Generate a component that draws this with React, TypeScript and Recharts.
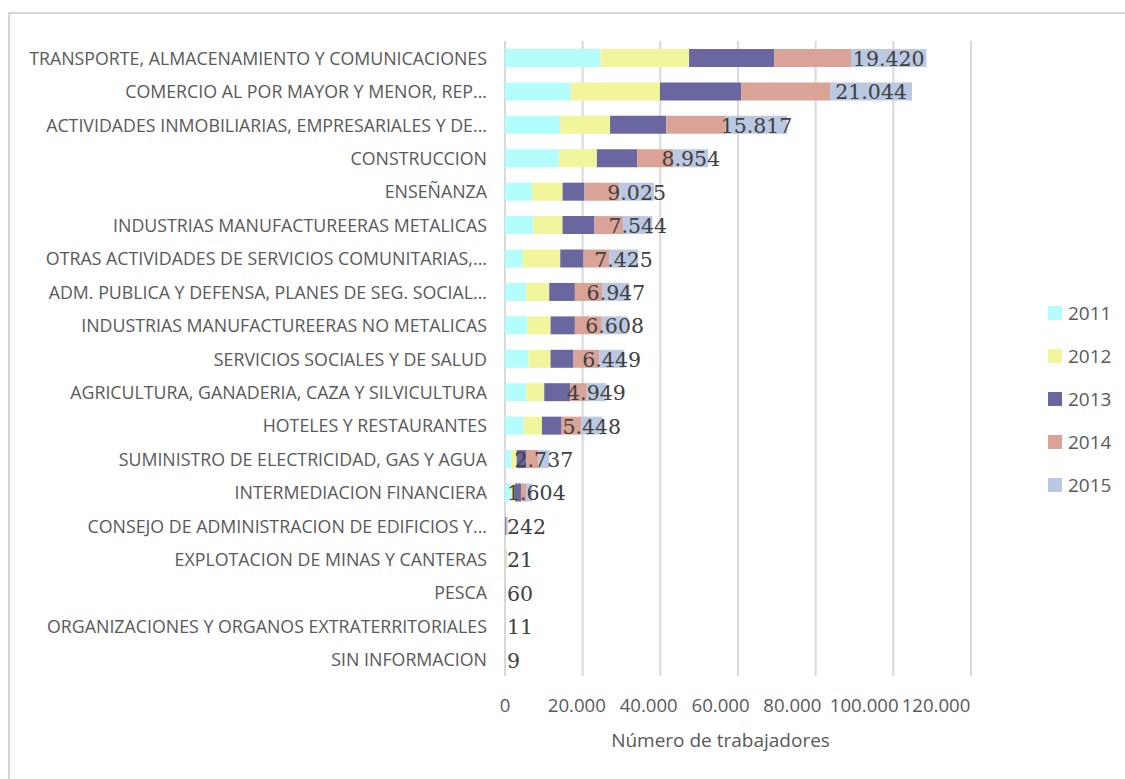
import { BarChart, Bar, XAxis, YAxis, CartesianGrid, Legend, LabelList, Label } from 'recharts'

const CATEGORIES = [
  'TRANSPORTE, ALMACENAMIENTO Y COMUNICACIONES',
  'COMERCIO AL POR MAYOR Y MENOR, REP...',
  'ACTIVIDADES INMOBILIARIAS, EMPRESARIALES Y DE...',
  'CONSTRUCCION',
  'ENSEÑANZA',
  'INDUSTRIAS MANUFACTUREERAS METALICAS',
  'OTRAS ACTIVIDADES DE SERVICIOS COMUNITARIAS,...',
  'ADM. PUBLICA Y DEFENSA, PLANES DE SEG. SOCIAL...',
  'INDUSTRIAS MANUFACTUREERAS NO METALICAS',
  'SERVICIOS SOCIALES Y DE SALUD',
  'AGRICULTURA, GANADERIA, CAZA Y SILVICULTURA',
  'HOTELES Y RESTAURANTES',
  'SUMINISTRO DE ELECTRICIDAD, GAS Y AGUA',
  'INTERMEDIACION FINANCIERA',
  'CONSEJO DE ADMINISTRACION DE EDIFICIOS Y...',
  'EXPLOTACION DE MINAS Y CANTERAS',
  'PESCA',
  'ORGANIZACIONES Y ORGANOS EXTRATERRITORIALES',
  'SIN INFORMACION',
]

const Y2011 = [24600, 16950, 14200, 13900, 6950, 7370, 4550, 5480, 5750, 6080, 5480, 4800, 1710, 1540, 0, 30, 20, 5, 3]
const Y2012 = [22800, 22950, 12850, 9770, 7880, 7450, 9680, 5910, 5990, 5650, 4630, 4710, 1290, 1030, 0, 200, 15, 8, 4]
const Y2013 = [21900, 20990, 14480, 10370, 5650, 8220, 5990, 6600, 6250, 5910, 6680, 5050, 2400, 1540, 220, 40, 20, 10, 5]
const Y2014 = [19800, 22870, 15330, 9340, 8910, 7370, 6600, 7110, 6940, 6600, 4280, 5050, 3250, 1290, 250, 100, 30, 12, 6]
const Y2015 = [19420, 21044, 15817, 8954, 9025, 7544, 7425, 6947, 6608, 6449, 4949, 5448, 2737, 1604, 242, 21, 60, 11, 9]

const X_TICKS = [0, 20000, 40000, 60000, 80000, 100000, 120000]

const SERIES = [
  { key: '2011', color: '#b3fdfd' },
  { key: '2012', color: '#f1f59b' },
  { key: '2013', color: '#6a67a0' },
  { key: '2014', color: '#d9a497' },
  { key: '2015', color: '#bac8e2' },
]

const data = CATEGORIES.map((name, i) => ({
  name,
  '2011': Y2011[i],
  '2012': Y2012[i],
  '2013': Y2013[i],
  '2014': Y2014[i],
  '2015': Y2015[i],
}))

const PLOT_LEFT = 505
const TICK_SQUEEZE = 0.925
const SANS = '"Open Sans", sans-serif'
const GREY = '#595959'

const fmt = (v: number) => Math.round(v).toString().replace(/\B(?=(\d{3})+(?!\d))/g, '.')

function CategoryTick(props: any) {
  const { x, y, payload } = props
  return (
    <text x={x} y={y} textAnchor="end" dominantBaseline="central" fontFamily={SANS} fontSize={17.8} fill={GREY}>
      {payload.value}
    </text>
  )
}

function ValueTick(props: any) {
  const { x, y, payload } = props
  // the source picture has its tick labels slightly squeezed toward the origin
  const tx = PLOT_LEFT + (x - PLOT_LEFT) * TICK_SQUEEZE
  return (
    <text x={tx} y={y + 28} textAnchor="middle" dominantBaseline="central" fontFamily={SANS} fontSize={18.6} fill={GREY}>
      {fmt(payload.value)}
    </text>
  )
}

function AxisTitle(props: any) {
  const vb = props.viewBox || {}
  return (
    <text x={vb.x + (vb.width * TICK_SQUEEZE) / 2} y={vb.y + 64} textAnchor="middle" dominantBaseline="central" fontFamily={SANS} fontSize={19} fill={GREY}>
      Número de trabajadores
    </text>
  )
}

function ValueLabel(props: any) {
  const { x, y, width, height, value } = props
  const text = fmt(Number(value))
  const fs = 20.5
  const dots = (text.match(/\./g) || []).length
  const est = (text.length - dots) * 0.636 * fs + dots * 0.318 * fs
  const cx = Math.max(Number(x) + Number(width) / 2, PLOT_LEFT + 2 + est / 2)
  return (
    <text x={cx} y={Number(y) + Number(height) / 2 + 1} textAnchor="middle" dominantBaseline="central" fontFamily='"DejaVu Serif", serif' fontSize={fs} fill="#404040">
      {text}
    </text>
  )
}

function LegendBox(props: any) {
  const items = props.payload || []
  return (
    <div>
      {items.map((it: any) => (
        <div key={it.value} style={{ display: 'flex', alignItems: 'center', height: 43 }}>
          <span style={{ width: 14, height: 14, background: it.color, marginRight: 6, display: 'inline-block' }} />
          <span style={{ fontFamily: SANS, fontSize: 19, color: GREY }}>{it.value}</span>
        </div>
      ))}
    </div>
  )
}

export default function App() {
  return (
    <div style={{ position: 'fixed', left: 0, top: 0, width: 1125, height: 779, background: '#fff' }}>
      <div
        style={{
          position: 'absolute', left: 8, top: 12, width: 1117, height: 767,
          borderTop: '2px solid #d6d6d6', borderLeft: '2px solid #d6d6d6', boxSizing: 'border-box',
        }}
      />
      <div style={{ position: 'absolute', left: 0, top: 0 }}>
        <BarChart width={1125} height={779} data={data} layout="vertical" margin={{ top: 41, right: 154, bottom: 33, left: 0 }}>
          <CartesianGrid horizontal={false} vertical stroke="#d9d9d9" strokeWidth={2} />
          <XAxis
            type="number"
            domain={[0, 120000]}
            ticks={X_TICKS}
            height={70}
            axisLine={false}
            tickLine={false}
            tickSize={0}
            tickMargin={0}
            tick={<ValueTick />}
          >
            <Label content={<AxisTitle />} />
          </XAxis>
          <YAxis
            type="category"
            dataKey="name"
            width={PLOT_LEFT}
            interval={0}
            axisLine={false}
            tickLine={false}
            tickSize={0}
            tickMargin={18}
            tick={<CategoryTick />}
          />
          <Legend
            layout="vertical"
            align="center"
            verticalAlign="middle"
            content={<LegendBox />}
            wrapperStyle={{ left: 1048, top: 291, width: 77 }}
          />
          {SERIES.map((s) => (
            <Bar key={s.key} dataKey={s.key} stackId="a" fill={s.color} barSize={18} isAnimationActive={false}>
              {s.key === '2015' && <LabelList dataKey="2015" content={<ValueLabel />} />}
            </Bar>
          ))}
        </BarChart>
      </div>
    </div>
  )
}
